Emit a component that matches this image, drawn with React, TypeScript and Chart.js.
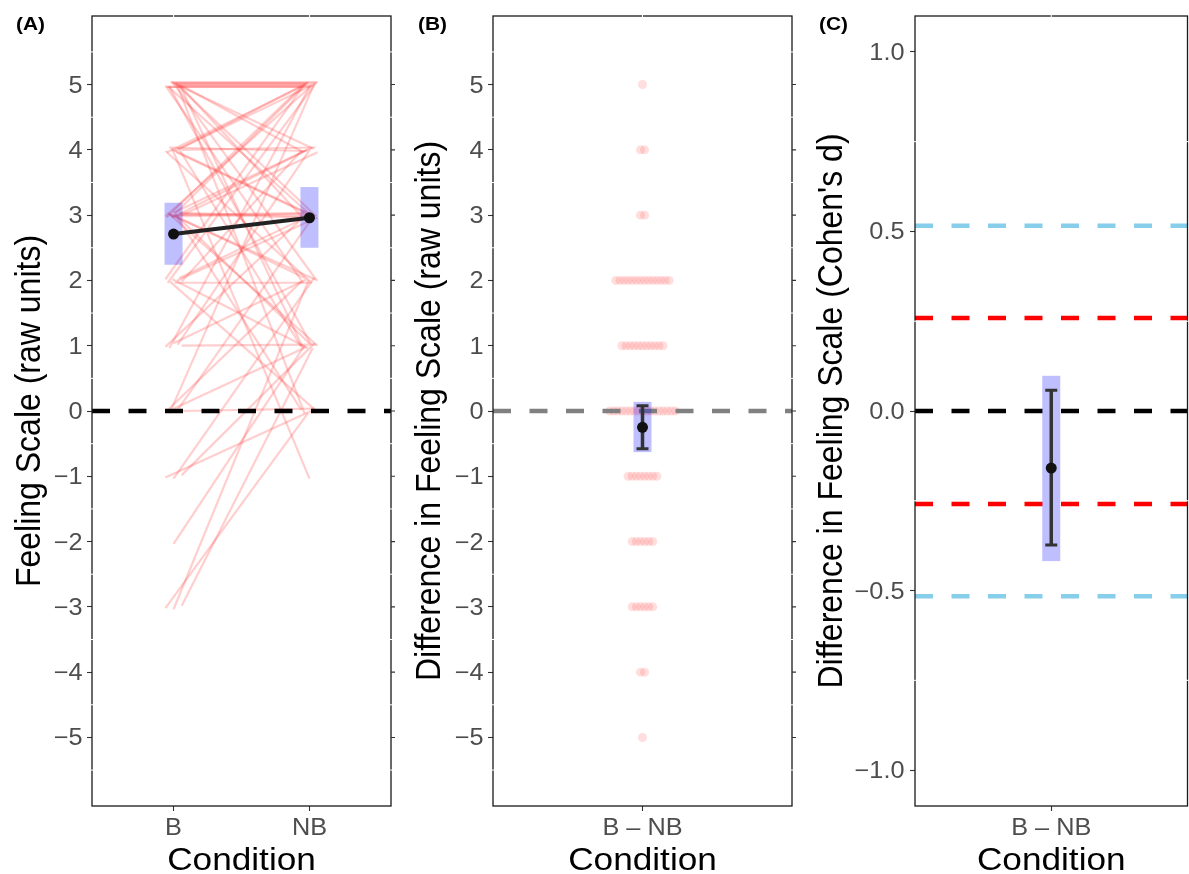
import React, { useEffect, useRef } from 'react';
import { Chart, registerables } from 'chart.js';
Chart.register(...registerables);

// ---------------- Data ----------------
// Panel A: paired Feeling Scale scores per participant
const conditions = ['B', 'NB'];
const feelingB = [
  5, 5, 5, 5, 5, 5, 5, 5, 5, 5, 5, 5, 5, 5, 5, 5, 5,
  4, 4, 4, 4, 4, 4, 4, 4, 4, 4,
  3, 3, 3, 3, 3, 3, 3, 3, 3, 3, 3, 3, 3, 3, 3,
  2, 2, 2, 2, 2, 2, 2, 2,
  1, 1, 1, 1, 1,
  0, 0, 0, 0, 0,
  -1, -1, -1,
  -2,
  -3, -3, -3,
];
const feelingNB = [
  5, 5, 5, 5, 5, 5, 5, 4, 4, 3, 3, 3, 2, 2, 1, 1, 0,
  5, 5, 5, 4, 4, 3, 3, 2, 1, -1,
  5, 5, 5, 4, 4, 4, 3, 3, 3, 3, 2, 2, 1, 1, 0,
  5, 5, 4, 3, 3, 2, 1, 0,
  5, 4, 3, 2, 1,
  5, 3, 2, 1, 0,
  2, 1, 0,
  1,
  2, 1, 0,
];
const meanFeeling = [2.71, 2.96];
const boxLowFeeling = [2.24, 2.5];
const boxHighFeeling = [3.19, 3.43];
const rawTicks = [-5, -4, -3, -2, -1, 0, 1, 2, 3, 4, 5];
const rawMinor = [-5.5, -4.5, -3.5, -2.5, -1.5, -0.5, 0.5, 1.5, 2.5, 3.5, 4.5, 5.5];

// Panel B: differences B - NB (raw units)
const diffCategory = ['B \u2013 NB'];
const diffLevels = [5, 4, 3, 2, 1, 0, -1, -2, -3, -4, -5];
const diffCounts = [1, 2, 2, 14, 11, 17, 8, 6, 6, 2, 1];
const diffMean = -0.25;
const diffErrLow = -0.58;
const diffErrHigh = 0.08;
const diffBoxLow = -0.63;
const diffBoxHigh = 0.14;

// Panel C: Cohen's d
const cohenMean = -0.159;
const cohenErrLow = -0.373;
const cohenErrHigh = 0.058;
const cohenBoxLow = -0.418;
const cohenBoxHigh = 0.098;
const cohenRefValues = [0.516, 0.259, 0, -0.259, -0.516];
const cohenRefColors = ['#87CEEB', '#FF0000', '#000000', '#FF0000', '#87CEEB'];
const cohenTicks = [-1, -0.5, 0, 0.5, 1];
const cohenMinor = [-0.75, -0.25, 0.25, 0.75];

// ---------------- Styling ----------------
const FONT = '"Liberation Sans", Arial, Helvetica, sans-serif';
const SX = 1.1; // horizontal text stretch
const TICK_SIZE = 23;
const TITLE_SIZE = 32;
const TICK_COLOR = '#4D4D4D';
const DASH = [18, 18.5];
const BOX_COLOR = 'rgba(0,0,255,0.25)';

const fmtRaw = (v: number) => (v < 0 ? '\u2212' + Math.abs(v) : String(v));
const fmtD = (v: number) => (v < 0 ? '\u2212' : '') + Math.abs(v).toFixed(1);

function drawText(
  ctx: CanvasRenderingContext2D,
  text: string,
  x: number,
  y: number,
  size: number,
  color: string,
  align: CanvasTextAlign,
  opts: { bold?: boolean; rotate?: boolean } = {}
) {
  ctx.save();
  ctx.translate(x, y);
  ctx.scale(SX, 1);
  if (opts.rotate) ctx.rotate(-Math.PI / 2);
  ctx.font = `${opts.bold ? 'bold ' : ''}${size}px ${FONT}`;
  ctx.fillStyle = color;
  ctx.textAlign = align;
  ctx.textBaseline = 'alphabetic';
  ctx.fillText(text, 0, 0);
  ctx.restore();
}

function gcd(a: number, b: number): number {
  return b === 0 ? a : gcd(b, a % b);
}

// spread members of the same level evenly (deterministic jitter layout)
function groupLayout(values: number[], spread: number, mult: number) {
  const groups = new Map<number, number[]>();
  values.forEach((v, i) => {
    if (!groups.has(v)) groups.set(v, []);
    groups.get(v)!.push(i);
  });
  const xo = new Array(values.length).fill(0);
  const yo = new Array(values.length).fill(0);
  groups.forEach((idx) => {
    const n = idx.length;
    let m = mult;
    while (gcd(m, n) !== 1) m++;
    idx.forEach((i, k) => {
      const slot = (k * m + 1) % n;
      xo[i] = n > 1 ? (slot / (n - 1) - 0.5) * spread : 0;
      yo[i] = (((k * 3) % 5) - 2) * 0.018;
    });
  });
  return { xo, yo };
}

type Spec = {
  tag: string;
  tagX: number;
  yTitle: string;
  yTitleX: number;
  yTicks: number[];
  yMinor: number[];
  fmt: (v: number) => string;
  labelGap: number;
  xTicks: { value: number; text: string }[];
  rightTicks: boolean;
  boxes: { x: number; lo: number; hi: number }[];
  errs: { x: number; lo: number; hi: number }[];
};

function decorPlugin(spec: Spec) {
  return {
    id: 'decor',
    beforeDatasetDraw(chart: any, args: any) {
      if (args.index !== 0) return;
      const ctx: CanvasRenderingContext2D = chart.ctx;
      const xs = chart.scales.x;
      const ys = chart.scales.y;
      ctx.save();
      ctx.fillStyle = BOX_COLOR;
      for (const b of spec.boxes) {
        const xc = xs.getPixelForValue(b.x);
        const y1 = ys.getPixelForValue(b.hi);
        const y2 = ys.getPixelForValue(b.lo);
        ctx.fillRect(xc - 9, y1, 18, y2 - y1);
      }
      ctx.strokeStyle = '#333333';
      for (const e of spec.errs) {
        const xc = xs.getPixelForValue(e.x);
        const y1 = ys.getPixelForValue(e.hi);
        const y2 = ys.getPixelForValue(e.lo);
        ctx.lineWidth = 3.5;
        ctx.beginPath();
        ctx.moveTo(xc, y1);
        ctx.lineTo(xc, y2);
        ctx.stroke();
        ctx.lineWidth = 3;
        ctx.beginPath();
        ctx.moveTo(xc - 6, y1);
        ctx.lineTo(xc + 6, y1);
        ctx.moveTo(xc - 6, y2);
        ctx.lineTo(xc + 6, y2);
        ctx.stroke();
      }
      ctx.restore();
    },
    afterDraw(chart: any) {
      const ctx: CanvasRenderingContext2D = chart.ctx;
      const a = chart.chartArea;
      const xs = chart.scales.x;
      const ys = chart.scales.y;
      ctx.save();
      // panel border
      ctx.strokeStyle = '#1a1a1a';
      ctx.lineWidth = 1.3;
      ctx.strokeRect(a.left, a.top, a.right - a.left, a.bottom - a.top);
      // right side ticks
      ctx.strokeStyle = '#333333';
      ctx.lineWidth = 1.1;
      if (spec.rightTicks) {
        ctx.beginPath();
        for (const v of spec.yTicks) {
          const y = ys.getPixelForValue(v);
          ctx.moveTo(a.right, y);
          ctx.lineTo(a.right + 4, y);
        }
        ctx.stroke();
      }
      // white grid notches
      ctx.strokeStyle = '#ffffff';
      ctx.lineWidth = 1;
      ctx.beginPath();
      for (const v of spec.yMinor) {
        const y = ys.getPixelForValue(v);
        ctx.moveTo(a.left - 1.5, y);
        ctx.lineTo(a.left + 1.5, y);
        ctx.moveTo(a.right - 1.5, y);
        ctx.lineTo(a.right + 1.5, y);
      }
      for (const t of spec.xTicks) {
        const x = xs.getPixelForValue(t.value);
        ctx.moveTo(x, a.top - 1.5);
        ctx.lineTo(x, a.top + 1.5);
      }
      ctx.stroke();
      ctx.restore();
      // texts
      for (const v of spec.yTicks) {
        drawText(ctx, spec.fmt(v), a.left - spec.labelGap, ys.getPixelForValue(v) + 8, TICK_SIZE, TICK_COLOR, 'right');
      }
      for (const t of spec.xTicks) {
        drawText(ctx, t.text, xs.getPixelForValue(t.value), 835, TICK_SIZE, TICK_COLOR, 'center');
      }
      drawText(ctx, 'Condition', (a.left + a.right) / 2, 870, TITLE_SIZE, '#000', 'center');
      drawText(ctx, spec.yTitle, spec.yTitleX, (a.top + a.bottom) / 2, TITLE_SIZE, '#000', 'center', { rotate: true });
      drawText(ctx, spec.tag, spec.tagX, 29.5, 19, '#000', 'left', { bold: true });
    },
  };
}

function axis(min: number, max: number, ticks: number[], prop: 'width' | 'height', size: number) {
  return {
    type: 'linear',
    min,
    max,
    afterBuildTicks: (s: any) => {
      s.ticks = ticks.map((v) => ({ value: v }));
    },
    ticks: { display: false },
    grid: { drawOnChartArea: false, drawTicks: true, tickLength: 5, tickColor: '#333333', tickWidth: 1.1 },
    border: { display: false },
    afterFit: (s: any) => {
      s[prop] = size;
    },
  };
}

function baseOptions(xAxis: any, yAxis: any, padding: any) {
  return {
    responsive: false,
    animation: false,
    devicePixelRatio: 1,
    events: [],
    layout: { padding },
    plugins: { legend: { display: false }, tooltip: { enabled: false } },
    scales: { x: xAxis, y: yAxis },
  };
}

function buildA(): any {
  const bj = groupLayout(feelingB, 0.12, 7);
  const nj = groupLayout(feelingNB, 0.12, 5);
  const pairs = feelingB.map((b, i) => ({
    type: 'line',
    data: [
      { x: 1 + bj.xo[i], y: b + bj.yo[i] },
      { x: 2 + nj.xo[i], y: feelingNB[i] + nj.yo[i] },
    ],
    borderColor: 'rgba(255,60,60,0.25)',
    borderWidth: 2.2,
    pointRadius: 0,
    order: 3,
  }));
  const mean = {
    type: 'line',
    data: conditions.map((c, i) => ({ x: i + 1, y: meanFeeling[i] })),
    borderColor: '#222222',
    borderWidth: 4,
    pointRadius: 5.5,
    pointBackgroundColor: '#111111',
    pointBorderWidth: 0,
    order: 0,
  };
  const zero = {
    type: 'line',
    data: [
      { x: 0.4, y: 0 },
      { x: 2.6, y: 0 },
    ],
    borderColor: '#000000',
    borderWidth: 4.5,
    borderDash: DASH,
    pointRadius: 0,
    order: 1,
  };
  const spec: Spec = {
    tag: '(A)',
    tagX: 16,
    yTitle: 'Feeling Scale (raw units)',
    yTitleX: 39.5,
    yTicks: rawTicks,
    yMinor: rawMinor,
    fmt: fmtRaw,
    labelGap: 9.5,
    xTicks: conditions.map((c, i) => ({ value: i + 1, text: c })),
    rightTicks: true,
    boxes: conditions.map((c, i) => ({ x: i + 1, lo: boxLowFeeling[i], hi: boxHighFeeling[i] })),
    errs: [],
  };
  return {
    type: 'line',
    data: { datasets: [mean, zero, ...pairs] },
    options: baseOptions(axis(0.4, 2.6, [1, 2], 'height', 68), axis(-6.05, 6.05, rawTicks, 'width', 92), {
      top: 16,
      right: 9,
      left: 0,
      bottom: 0,
    }),
    plugins: [decorPlugin(spec)],
  };
}

function buildB(): any {
  const SWARM_STEP = 0.0165;
  const pts: { x: number; y: number }[] = [];
  diffLevels.forEach((lv, li) => {
    const n = diffCounts[li];
    for (let k = 0; k < n; k++) pts.push({ x: 1 + (k - (n - 1) / 2) * SWARM_STEP, y: lv });
  });
  const mean = {
    type: 'line',
    showLine: false,
    data: [{ x: 1, y: diffMean }],
    pointRadius: 5.5,
    pointBackgroundColor: '#111111',
    pointBorderWidth: 0,
    order: 0,
  };
  const zero = {
    type: 'line',
    data: [
      { x: 0.4, y: 0 },
      { x: 1.6, y: 0 },
    ],
    borderColor: '#808080',
    borderWidth: 4.5,
    borderDash: DASH,
    pointRadius: 0,
    order: 1,
  };
  const swarm = {
    type: 'line',
    showLine: false,
    data: pts,
    pointRadius: 4.5,
    pointBackgroundColor: 'rgba(255,90,90,0.2)',
    pointBorderWidth: 0,
    order: 2,
  };
  const spec: Spec = {
    tag: '(B)',
    tagX: 18,
    yTitle: 'Difference in Feeling Scale (raw units)',
    yTitleX: 40,
    yTicks: rawTicks,
    yMinor: rawMinor,
    fmt: fmtRaw,
    labelGap: 9.5,
    xTicks: [{ value: 1, text: diffCategory[0] }],
    rightTicks: true,
    boxes: [{ x: 1, lo: diffBoxLow, hi: diffBoxHigh }],
    errs: [{ x: 1, lo: diffErrLow, hi: diffErrHigh }],
  };
  return {
    type: 'line',
    data: { datasets: [mean, zero, swarm] },
    options: baseOptions(axis(0.4, 1.6, [1], 'height', 68), axis(-6.05, 6.05, rawTicks, 'width', 93), {
      top: 16,
      right: 8,
      left: 0,
      bottom: 0,
    }),
    plugins: [decorPlugin(spec)],
  };
}

function buildC(): any {
  const mean = {
    type: 'line',
    showLine: false,
    data: [{ x: 1, y: cohenMean }],
    pointRadius: 5.5,
    pointBackgroundColor: '#111111',
    pointBorderWidth: 0,
    order: 0,
  };
  const refs = cohenRefValues.map((v, i) => ({
    type: 'line',
    data: [
      { x: 0.4, y: v },
      { x: 1.6, y: v },
    ],
    borderColor: cohenRefColors[i],
    borderWidth: 4.5,
    borderDash: DASH,
    pointRadius: 0,
    order: 1,
  }));
  const spec: Spec = {
    tag: '(C)',
    tagX: 19,
    yTitle: "Difference in Feeling Scale (Cohen's d)",
    yTitleX: 41.5,
    yTicks: cohenTicks,
    yMinor: cohenMinor,
    fmt: fmtD,
    labelGap: 10.5,
    xTicks: [{ value: 1, text: diffCategory[0] }],
    rightTicks: false,
    boxes: [{ x: 1, lo: cohenBoxLow, hi: cohenBoxHigh }],
    errs: [{ x: 1, lo: cohenErrLow, hi: cohenErrHigh }],
  };
  return {
    type: 'line',
    data: { datasets: [mean, ...refs] },
    options: baseOptions(axis(0.4, 1.6, [1], 'height', 68), axis(-1.1, 1.1, cohenTicks, 'width', 115), {
      top: 16,
      right: 0,
      left: 0,
      bottom: 0,
    }),
    plugins: [decorPlugin(spec)],
  };
}

export default function App() {
  const refA = useRef<HTMLCanvasElement>(null);
  const refB = useRef<HTMLCanvasElement>(null);
  const refC = useRef<HTMLCanvasElement>(null);
  useEffect(() => {
    const charts = [
      new Chart(refA.current!, buildA()),
      new Chart(refB.current!, buildB()),
      new Chart(refC.current!, buildC()),
    ];
    return () => charts.forEach((c) => c.destroy());
  }, []);
  return (
    <div
      style={{
        position: 'absolute',
        left: 0,
        top: 0,
        width: 1189,
        height: 874,
        overflow: 'hidden',
        background: '#ffffff',
      }}
    >
      <canvas ref={refA} width={400} height={874} style={{ position: 'absolute', left: 0, top: 0 }} />
      <canvas ref={refB} width={400} height={874} style={{ position: 'absolute', left: 400, top: 0 }} />
      <canvas ref={refC} width={393} height={874} style={{ position: 'absolute', left: 800, top: 0 }} />
    </div>
  );
}
